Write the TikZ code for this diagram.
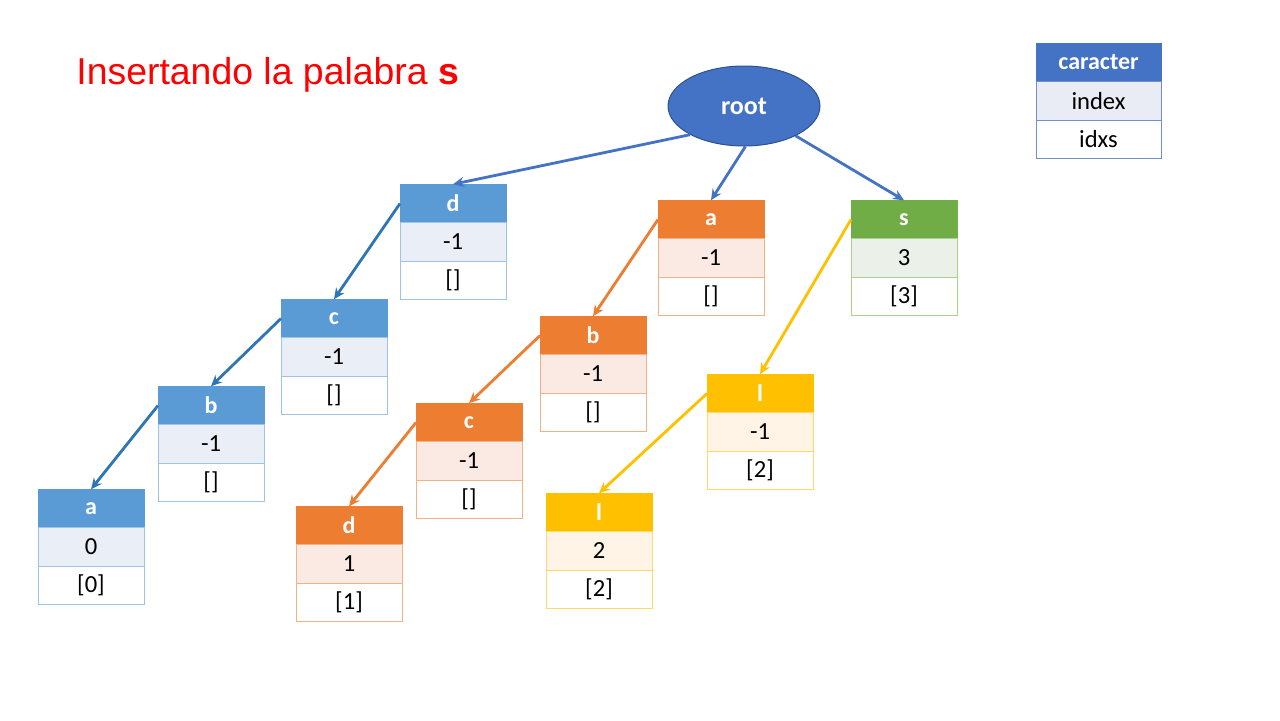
\documentclass[tikz,border=0pt]{standalone}
\usepackage{fontspec}
\setmainfont{Carlito}
\newfontfamily\titlefont{Liberation Sans}
\usetikzlibrary{arrows.meta, positioning, shapes.geometric}
\definecolor{rootblue}{HTML}{4472C4}
\definecolor{rootedge}{HTML}{2F528F}
\definecolor{blueH}{HTML}{5B9BD5}
\definecolor{blueC}{HTML}{E9EEF7}
\definecolor{blueL}{HTML}{9DC3E6}
\definecolor{blueA}{HTML}{2E75B6}
\definecolor{orangeH}{HTML}{ED7D31}
\definecolor{orangeC}{HTML}{FBEAE3}
\definecolor{orangeL}{HTML}{F4B183}
\definecolor{greenH}{HTML}{70AD47}
\definecolor{greenC}{HTML}{EBF1E8}
\definecolor{greenL}{HTML}{A9D18E}
\definecolor{yellowH}{HTML}{FFC000}
\definecolor{yellowC}{HTML}{FFF4E6}
\definecolor{yellowL}{HTML}{FFD966}
\definecolor{legC}{HTML}{E9EBF5}
\definecolor{legL}{HTML}{6F8FD0}

\begin{document}
\begin{tikzpicture}[
  x=0.5pt, y=-0.5pt,
  hdr/.style={fill=#1, draw=#1, line width=0.5pt, inner sep=0pt, outer sep=0pt,
    minimum width=53pt, minimum height=19.25pt, text=white,
    font=\fontsize{12}{14}\selectfont\bfseries},
  cell/.style 2 args={fill=#1, draw=#2, line width=0.5pt, inner sep=0pt, outer sep=0pt,
    minimum width=53pt, minimum height=19.25pt, font=\fontsize{12.3}{14}\selectfont},
  arr/.style={-{Stealth[length=5.5pt, width=5pt]}, line width=1.4pt, draw=#1}
]
\useasboundingbox (0,0) rectangle (1280,720);

\node[anchor=base west, inner sep=0pt, text=red, font=\titlefont\fontsize{18.7}{22}\selectfont]
  (title) at (76,84) {Insertando la palabra \textbf{s}};

\node[ellipse, fill=rootblue, draw=rootedge, line width=0.5pt, minimum width=76pt,
  minimum height=40pt, text=white, font=\fontsize{13}{15}\selectfont\bfseries]
  (root) at (744,106) {root};

% legend
\node[hdr=rootblue, minimum width=62.5pt] (leg) at (1098.5,62.5) {caracter};
\node[cell={legC}{legL}, minimum width=62.5pt, below=0pt of leg] (legi) {index};
\node[cell={white}{legL}, minimum width=62.5pt, below=0pt of legi] (legx) {idxs};

% rama d-c-b-a
\node[hdr=blueH] (dB) at (453,203.5) {d};
\node[cell={blueC}{blueL}, below=0pt of dB] (dBi) {-1};
\node[cell={white}{blueL}, below=0pt of dBi] (dBx) {[]};
\node[hdr=blueH] (cB) at (334,318.5) {c};
\node[cell={blueC}{blueL}, below=0pt of cB] (cBi) {-1};
\node[cell={white}{blueL}, below=0pt of cBi] (cBx) {[]};
\node[hdr=blueH] (bB) at (211,405.5) {b};
\node[cell={blueC}{blueL}, below=0pt of bB] (bBi) {-1};
\node[cell={white}{blueL}, below=0pt of bBi] (bBx) {[]};
\node[hdr=blueH] (aB) at (91,508.5) {a};
\node[cell={blueC}{blueL}, below=0pt of aB] (aBi) {0};
\node[cell={white}{blueL}, below=0pt of aBi] (aBx) {[0]};

% rama a-b-c-d
\node[hdr=orangeH] (aO) at (711,219.5) {a};
\node[cell={orangeC}{orangeL}, below=0pt of aO] (aOi) {-1};
\node[cell={white}{orangeL}, below=0pt of aOi] (aOx) {[]};
\node[hdr=orangeH] (bO) at (593,335.5) {b};
\node[cell={orangeC}{orangeL}, below=0pt of bO] (bOi) {-1};
\node[cell={white}{orangeL}, below=0pt of bOi] (bOx) {[]};
\node[hdr=orangeH] (cO) at (469,422.5) {c};
\node[cell={orangeC}{orangeL}, below=0pt of cO] (cOi) {-1};
\node[cell={white}{orangeL}, below=0pt of cOi] (cOx) {[]};
\node[hdr=orangeH] (dO) at (349,525.5) {d};
\node[cell={orangeC}{orangeL}, below=0pt of dO] (dOi) {1};
\node[cell={white}{orangeL}, below=0pt of dOi] (dOx) {[1]};

% rama s-l-l
\node[hdr=greenH] (sG) at (904,219.5) {s};
\node[cell={greenC}{greenL}, below=0pt of sG] (sGi) {3};
\node[cell={white}{greenL}, below=0pt of sGi] (sGx) {[3]};
\node[hdr=yellowH] (lY) at (760,393.5) {l};
\node[cell={yellowC}{yellowL}, below=0pt of lY] (lYi) {-1};
\node[cell={white}{yellowL}, below=0pt of lYi] (lYx) {[2]};
\node[hdr=yellowH] (llY) at (599,512.5) {l};
\node[cell={yellowC}{yellowL}, below=0pt of llY] (llYi) {2};
\node[cell={white}{yellowL}, below=0pt of llYi] (llYx) {[2]};

\draw[arr=rootblue] (root.208) -- (dB.north);
\draw[arr=rootblue] (root.272) -- (aO.north);
\draw[arr=rootblue] (root.330) -- (sG.north);
\draw[arr=blueA] (dB.west) -- (cB.north);
\draw[arr=blueA] (cB.west) -- (bB.north);
\draw[arr=blueA] (bB.west) -- (aB.north);
\draw[arr=orangeH] (aO.west) -- (bO.north);
\draw[arr=orangeH] (bO.west) -- (cO.north);
\draw[arr=orangeH] (cO.west) -- (dO.north);
\draw[arr=yellowH] (sG.west) -- (lY.north);
\draw[arr=yellowH] (lY.west) -- (llY.north);
\end{tikzpicture}
\end{document}
